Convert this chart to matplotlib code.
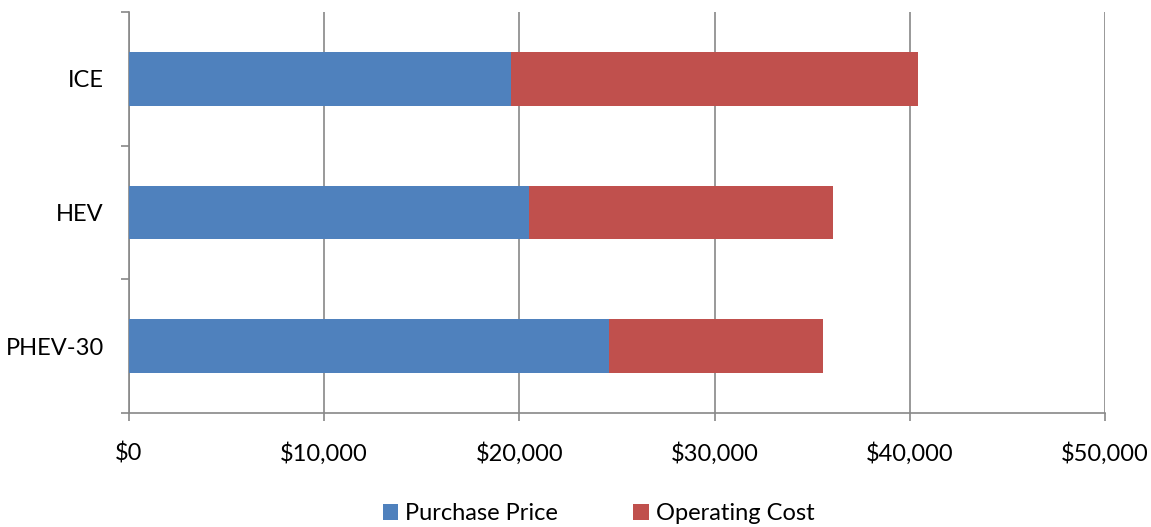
import matplotlib
matplotlib.use("Agg")
import matplotlib.pyplot as plt
from matplotlib.ticker import FuncFormatter, FixedLocator, NullFormatter

categories = ["ICE", "HEV", "PHEV-30"]
purchase_price = [19570, 20490, 24590]
operating_cost = [20850, 15580, 10960]
x_ticks = [0, 10000, 20000, 30000, 40000, 50000]

plt.rcParams['font.family'] = ['Lato', 'DejaVu Sans']

fig = plt.figure(figsize=(11.51, 5.27), dpi=100)
ax = fig.add_axes([129/1151, 1-413/527, (1105-129)/1151, (413-12)/527])

y = list(range(len(categories)))
blue = "#4F81BD"
red = "#C0504D"
ax.barh(y, purchase_price, height=0.4, color=blue, label="Purchase Price", zorder=3)
ax.barh(y, operating_cost, left=purchase_price, height=0.4, color=red, label="Operating Cost", zorder=3)

ax.set_xlim(0, 50000)
ax.set_ylim(len(categories)-0.5, -0.5)
ax.set_xticks(x_ticks)
ax.xaxis.set_major_formatter(FuncFormatter(lambda v, p: "${:,.0f}".format(v)))
ax.grid(axis="x", color="#888888", linewidth=1.2, zorder=0)

ax.set_yticks(y)
ax.set_yticklabels(categories)
ax.yaxis.set_minor_locator(FixedLocator([-0.5, 0.5, 1.5, 2.5]))
ax.yaxis.set_minor_formatter(NullFormatter())
ax.tick_params(axis="y", which="major", length=0, pad=18, labelsize=17)
ax.tick_params(axis="y", which="minor", length=6, color="#888888", width=1.2)
ax.tick_params(axis="x", which="major", length=6, color="#888888", width=1.2, labelsize=17, pad=15)

for s in ["top", "right"]:
    ax.spines[s].set_visible(False)
for s in ["left", "bottom"]:
    ax.spines[s].set_color("#888888")
    ax.spines[s].set_linewidth(1.2)

fig.legend(loc="lower center", bbox_to_anchor=(0.52, -0.035), ncol=2, frameon=False,
           fontsize=17, handlelength=0.65, handleheight=0.65, handletextpad=0.3, columnspacing=3.2)

fig.savefig("out.png", dpi=100)
